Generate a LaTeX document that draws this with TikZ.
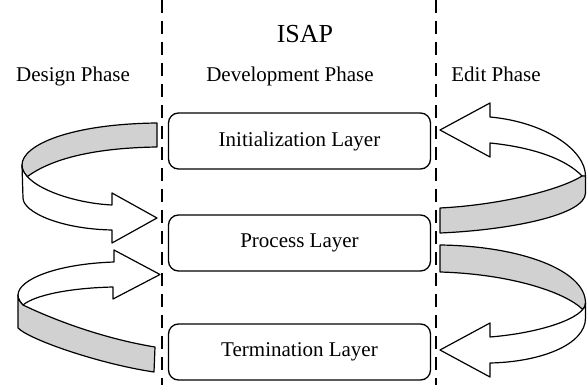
\documentclass[tikz,border=0pt]{standalone}
\usepackage{fontspec}
\setmainfont{Liberation Serif}
\begin{document}
\begin{tikzpicture}[x=1pt,y=-1pt,
  layerbox/.style={draw, rounded corners=10pt, line width=1.3pt, minimum width=262pt, minimum height=56pt, inner sep=0pt, font=\fontsize{21}{25}\selectfont},
  phasetext/.style={font=\fontsize{21}{25}\selectfont, anchor=base, inner sep=0pt},
  divider/.style={dash pattern=on 13pt off 8pt, line width=1.3pt},
  ribbonback/.style={fill=black!18, draw, line width=1.2pt, line join=round},
  ribbonfront/.style={fill=white, draw, line width=1.2pt, line join=round}]
\useasboundingbox (0,0) rectangle (587,385);

% dividers
\coordinate (la) at (162,0);
\coordinate (lb) at (162,385);
\coordinate (ra) at (436,0);
\coordinate (rb) at (436,385);
\draw[divider] (la) -- (lb);
\draw[divider] (ra) -- (rb);

% headings
\node[phasetext, font=\fontsize{26}{30}\selectfont] (isap) at (305,43) {ISAP};
\node[phasetext] (design) at (73,82) {Design Phase};
\node[phasetext] (devel) at (290,82) {Development Phase};
\node[phasetext] (edit) at (496,82) {Edit Phase};

% layers
\node[layerbox] (init) at (299.5,141) {Initialization Layer};
\node[layerbox] (proc) at (299.5,243) {Process Layer};
\node[layerbox] (term) at (299.5,352) {Termination Layer};

% arrow A (design, top)
\draw[ribbonback] (157,123) .. controls (70,124) and (22,145) .. (22,165)
  .. controls (22,170) and (24,174) .. (27.3,176.6)
  .. controls (50,160) and (90,148) .. (157,147) -- cycle;
\draw[ribbonfront] (22,165) .. controls (22,185) and (70,203) .. (112,205)
  -- (112,193) -- (157,218) -- (112,243) -- (112,230)
  .. controls (60,229) and (23,212) .. (23,198) -- cycle;

% arrow B (design, bottom)
\draw[ribbonfront] (18,295) .. controls (18,280) and (55,264) .. (114,262)
  -- (114,250) -- (160,274.5) -- (113,299) -- (113,287)
  .. controls (70,288) and (35,295) .. (23,305)
  .. controls (20,302) and (18,299) .. (18,295) -- cycle;
\draw[ribbonback] (18,295) .. controls (18,299) and (20,302) .. (23,305)
  .. controls (50,318) and (100,338) .. (155,347) -- (154,372)
  .. controls (100,364) and (30,340) .. (18,328) -- cycle;

% arrow C (edit, top)
\draw[ribbonfront] (490,117) .. controls (545,122) and (585.5,150) .. (585.5,176)
  .. controls (585,176.5) and (583.5,176.5) .. (582,176)
  .. controls (565,158) and (530,147) .. (490,143)
  -- (490,157) -- (440,130) -- (490,103) -- cycle;
\draw[ribbonback] (582,176) .. controls (560,190) and (500,205) .. (440,208)
  -- (440,233) .. controls (510,230) and (585.5,215) .. (585.5,193)
  -- (585.5,176) .. controls (584.5,176.5) and (583.5,176.5) .. (582,176) -- cycle;

% arrow D (edit, bottom)
\draw[ribbonback] (440,245) .. controls (520,246) and (585.5,270) .. (585.5,303)
  .. controls (585.5,306) and (584.5,308) .. (582.6,309.4)
  .. controls (565,292) and (510,274) .. (440,272) -- cycle;
\draw[ribbonfront] (585.5,303) .. controls (585.5,318) and (540,333) .. (490,337)
  -- (490,323) -- (440,350) -- (490,377) -- (490,363)
  .. controls (540,362) and (585.5,345) .. (585.5,318) -- cycle;
\end{tikzpicture}
\end{document}
